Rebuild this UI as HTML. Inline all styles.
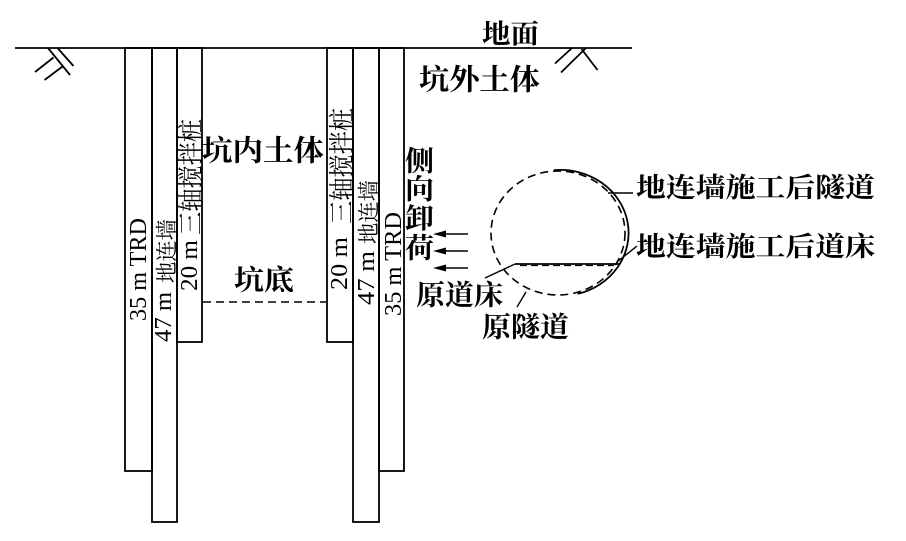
<!DOCTYPE html>
<html><head><meta charset="utf-8"><style>
html,body{margin:0;padding:0;background:#fff;}
svg{display:block;}
.b{font-family:"Liberation Serif","Noto Serif CJK SC",serif;font-weight:bold;fill:#000;}
.l{font-family:"Liberation Serif",serif;fill:#000;}
.c{font-family:"Liberation Serif","Noto Serif CJK SC",serif;fill:#000;}
</style></head><body>
<svg width="906" height="541" viewBox="0 0 906 541" xmlns="http://www.w3.org/2000/svg">
<g stroke="#000" stroke-width="1.8" fill="none">
  <line x1="15" y1="48" x2="632" y2="48"/>
  <line x1="48" y1="48" x2="70" y2="75"/>
  <line x1="57.5" y1="48" x2="73.5" y2="66"/>
  <line x1="35" y1="72" x2="53.5" y2="57.5"/>
  <line x1="44.5" y1="80" x2="62.5" y2="66.5"/>
  <line x1="555" y1="63.5" x2="572" y2="48"/>
  <line x1="561" y1="72.5" x2="586" y2="48"/>
  <line x1="581.5" y1="49" x2="597.5" y2="70"/>
  <rect x="125" y="48" width="27" height="423"/>
  <rect x="152" y="48" width="25" height="474"/>
  <rect x="177" y="48" width="25" height="294"/>
  <rect x="327" y="48" width="26" height="294"/>
  <rect x="353" y="48" width="26" height="474"/>
  <rect x="379" y="48" width="25" height="423"/>
  <line x1="203" y1="302" x2="326" y2="302" stroke-dasharray="8,5" stroke-width="1.5"/>
  <ellipse cx="558" cy="233" rx="67" ry="62" stroke-dasharray="8,5" stroke-width="1.6"/>
  <path d="M554 170.2 A68 63 0 0 1 577.6 293.9" stroke-width="1.8"/>
  <line x1="515" y1="264" x2="619" y2="264" stroke-width="1.8"/>
  <line x1="520" y1="265.5" x2="614" y2="265.5" stroke-dasharray="7,4" stroke-width="1.2"/>
  <line x1="608" y1="193" x2="633" y2="193" stroke-width="1.4"/>
  <line x1="617" y1="262" x2="637" y2="246" stroke-width="1.4"/>
  <line x1="485" y1="278" x2="515" y2="264" stroke-width="1.4"/>
  <line x1="517" y1="307" x2="526" y2="292" stroke-width="1.4"/>
  <line x1="442" y1="234" x2="468" y2="234" stroke-width="1.6"/>
  <line x1="442" y1="251" x2="468" y2="251" stroke-width="1.6"/>
  <line x1="442" y1="268" x2="468" y2="268" stroke-width="1.6"/>
</g>
<g fill="#000">
  <polygon points="433,234 446,230.5 446,237.5"/>
  <polygon points="433,251 446,247.5 446,254.5"/>
  <polygon points="433,268 446,264.5 446,271.5"/>
</g>

<text class="b" x="482" y="43.5" font-size="27" textLength="57" lengthAdjust="spacingAndGlyphs">地面</text>
<text class="b" x="419" y="89.5" font-size="29" textLength="121" lengthAdjust="spacingAndGlyphs">坑外土体</text>
<text class="b" x="202" y="160.5" font-size="29" textLength="122" lengthAdjust="spacingAndGlyphs">坑内土体</text>
<text class="b" x="234" y="289.5" font-size="28" textLength="60" lengthAdjust="spacingAndGlyphs">坑底</text>
<text class="b" x="405" y="170.5" font-size="28" textLength="29" lengthAdjust="spacingAndGlyphs">侧</text>
<text class="b" x="405" y="198.5" font-size="28" textLength="29" lengthAdjust="spacingAndGlyphs">向</text>
<text class="b" x="405" y="228" font-size="28" textLength="29" lengthAdjust="spacingAndGlyphs">卸</text>
<text class="b" x="405" y="257.5" font-size="28" textLength="29" lengthAdjust="spacingAndGlyphs">荷</text>
<text class="b" x="416" y="304.5" font-size="28" textLength="87" lengthAdjust="spacingAndGlyphs">原道床</text>
<text class="b" x="482" y="336.5" font-size="28" textLength="87" lengthAdjust="spacingAndGlyphs">原隧道</text>
<text class="b" x="636" y="197" font-size="27" textLength="239" lengthAdjust="spacingAndGlyphs">地连墙施工后隧道</text>
<text class="b" x="636" y="256" font-size="27" textLength="239" lengthAdjust="spacingAndGlyphs">地连墙施工后道床</text>

<g transform="translate(146,321) rotate(-90)">
  <text class="l" x="0" y="0" font-size="24" textLength="103" lengthAdjust="spacingAndGlyphs">35 m TRD</text>
</g>
<g transform="translate(171,342) rotate(-90)">
  <text class="l" x="0" y="0" font-size="24" textLength="50" lengthAdjust="spacingAndGlyphs">47 m</text>
</g>
<g transform="translate(174.5,283) rotate(-90)">
  <text class="c" x="0" y="0" font-size="22" textLength="64" lengthAdjust="spacingAndGlyphs">地连墙</text>
</g>
<g transform="translate(197,291) rotate(-90)">
  <text class="l" x="0" y="0" font-size="24" textLength="51" lengthAdjust="spacingAndGlyphs">20 m</text>
</g>
<g transform="translate(200,235) rotate(-90)">
  <text class="c" x="0" y="0" font-size="26" textLength="116" lengthAdjust="spacingAndGlyphs">三轴搅拌桩</text>
</g>
<g transform="translate(347,290) rotate(-90)">
  <text class="l" x="0" y="0" font-size="24" textLength="53" lengthAdjust="spacingAndGlyphs">20 m</text>
</g>
<g transform="translate(351,224) rotate(-90)">
  <text class="c" x="0" y="0" font-size="26" textLength="116" lengthAdjust="spacingAndGlyphs">三轴搅拌桩</text>
</g>
<g transform="translate(374,305) rotate(-90)">
  <text class="l" x="0" y="0" font-size="24" textLength="54" lengthAdjust="spacingAndGlyphs">47 m</text>
</g>
<g transform="translate(376.5,244) rotate(-90)">
  <text class="c" x="0" y="0" font-size="22" textLength="64" lengthAdjust="spacingAndGlyphs">地连墙</text>
</g>
<g transform="translate(401,316) rotate(-90)">
  <text class="l" x="0" y="0" font-size="24" textLength="104" lengthAdjust="spacingAndGlyphs">35 m TRD</text>
</g>
</svg>
</body></html>
